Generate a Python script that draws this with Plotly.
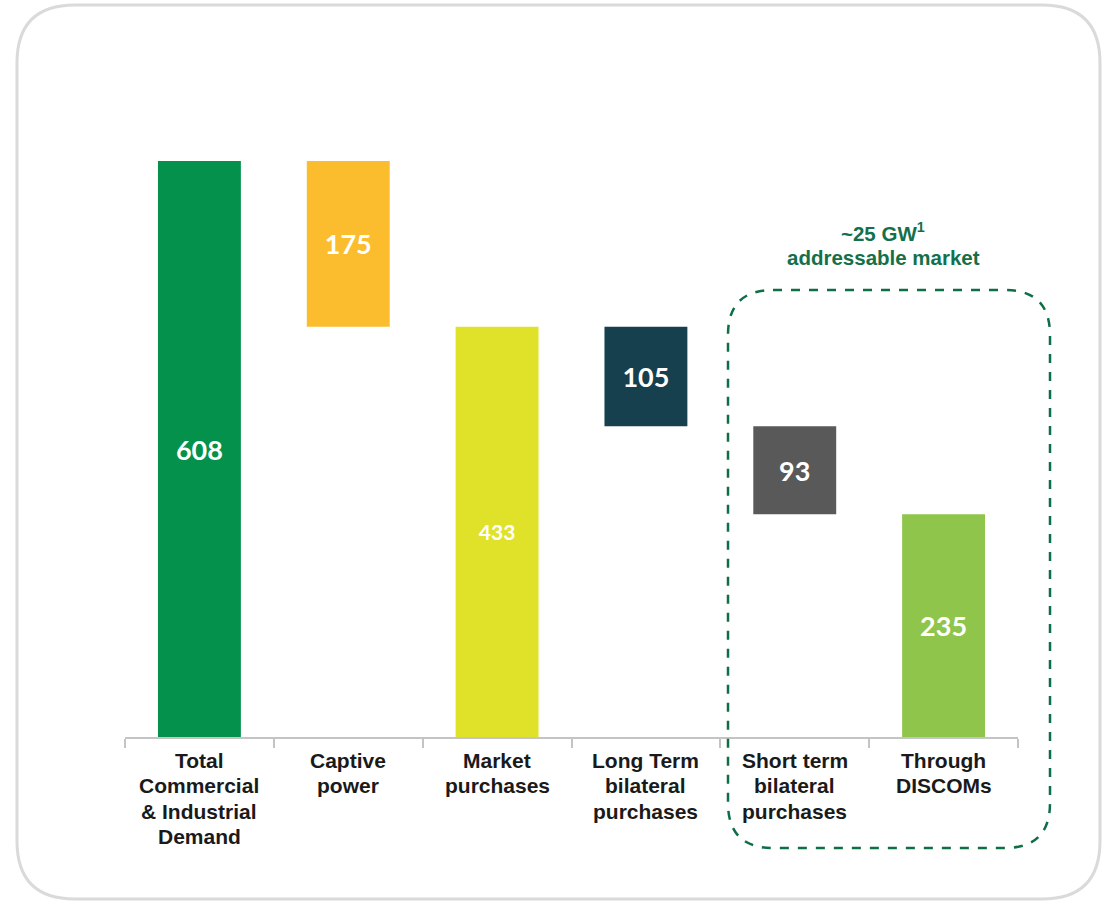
import plotly.graph_objects as go

# Commercial & Industrial power demand breakdown (waterfall)
categories = [
    "Total<br>Commercial<br>& Industrial<br>Demand",
    "Captive<br>power",
    "Market<br>purchases",
    "Long Term<br>bilateral<br>purchases",
    "Short term<br>bilateral<br>purchases",
    "Through<br>DISCOMs",
]
values = [608, 175, 433, 105, 93, 235]
measures = ["total", "decrease", "total", "decrease", "decrease", "total"]
bar_colors = ["#03914B", "#FBBD2E", "#E0E22A", "#17404F", "#595959", "#8FC54B"]
label_sizes = [27, 27, 21, 27, 27, 27]

# floating bases for the waterfall steps
bases = []
level = 0
for v, m in zip(values, measures):
    if m == "total":
        bases.append(0)
        level = v
    else:
        level -= v
        bases.append(level)

W, H = 1103, 901
ML, MR, MT, MB = 125, 85, 74, 164
PW, PH = W - ML - MR, H - MT - MB


def px(x):
    return (x - ML) / PW


def py(y):
    return (H - MB - y) / PH


def rounded_rect(x0, y0, x1, y1, r):
    # rounded rectangle path in paper units, given pixel corners
    rx, ry = r / PW, r / PH
    a, b, c, d = px(x0), py(y0), px(x1), py(y1)
    return (
        f"M {a + rx},{b} L {c - rx},{b} Q {c},{b} {c},{b - ry} "
        f"L {c},{d + ry} Q {c},{d} {c - rx},{d} "
        f"L {a + rx},{d} Q {a},{d} {a},{d + ry} "
        f"L {a},{b - ry} Q {a},{b} {a + rx},{b} Z"
    )


fig = go.Figure()
fig.add_trace(
    go.Bar(
        x=categories,
        y=values,
        base=bases,
        marker=dict(color=bar_colors, line=dict(width=0)),
        text=[str(v) for v in values],
        textposition="inside",
        insidetextanchor="middle",
        textangle=0,
        constraintext="none",
        textfont=dict(family="Lato", size=label_sizes, color="white", weight="bold"),
        hoverinfo="skip",
    )
)

LABEL_FONT = dict(family="Liberation Sans, Arial", size=21, color="#1A1A1A", weight="bold")
LINE_STEP = 25.5

annotations = []
# category labels, one annotation per line for tight line spacing
for cat in categories:
    for k, line in enumerate(cat.split("<br>")):
        annotations.append(
            dict(
                x=cat, y=0, xref="x", yref="y", yanchor="middle", xanchor="center",
                yshift=-(23 + k * LINE_STEP), showarrow=False, text=line,
                font=LABEL_FONT,
            )
        )

GW_FONT = dict(family="Liberation Sans, Arial", size=20.5, color="#13704A", weight="bold")
annotations.append(
    dict(
        x=px(883), y=py(232), xref="paper", yref="paper", xanchor="center", yanchor="middle",
        showarrow=False, text="~25 GW<sup>1</sup>", font=GW_FONT,
    )
)
annotations.append(
    dict(
        x=px(883), y=py(257), xref="paper", yref="paper", xanchor="center", yanchor="middle",
        showarrow=False, text="addressable market", font=GW_FONT,
    )
)

shapes = [
    dict(
        type="path", xref="paper", yref="paper", layer="below",
        path=rounded_rect(17, 5, 1100, 899, 58),
        line=dict(color="#DADADA", width=3), fillcolor="white",
    ),
    dict(
        type="path", xref="paper", yref="paper", layer="above",
        path=rounded_rect(728, 290, 1050, 848, 45),
        line=dict(color="#0E6E45", width=2.5, dash="dash"),
    ),
]

fig.update_layout(
    width=W, height=H,
    margin=dict(l=ML, r=MR, t=MT, b=MB),
    paper_bgcolor="white", plot_bgcolor="rgba(0,0,0,0)",
    showlegend=False,
    bargap=0.443,
    annotations=annotations,
    shapes=shapes,
    xaxis=dict(
        type="category", range=[-0.5, 5.5],
        showline=True, linecolor="#C4C4C4", linewidth=2,
        ticks="outside", tickson="boundaries", ticklen=9, tickcolor="#C4C4C4", tickwidth=2,
        showticklabels=False, showgrid=False, zeroline=False, fixedrange=True,
    ),
    yaxis=dict(
        range=[0, PH / (576 / 608)], visible=False, showgrid=False, zeroline=False,
    ),
)

fig.write_html("out.html")
